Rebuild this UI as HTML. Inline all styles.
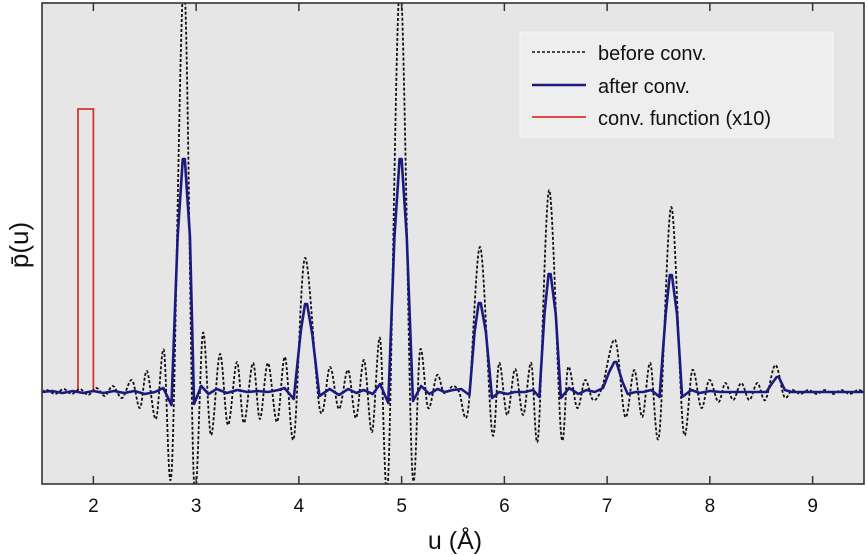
<!DOCTYPE html>
<html><head><meta charset="utf-8"><style>
body{margin:0;background:#fff;}
svg{display:block;font-family:"Liberation Sans",sans-serif;}
</style></head><body>
<svg id="c" width="867" height="555">
<defs><clipPath id="clip"><rect x="42" y="3" width="822" height="481"/></clipPath></defs>
<rect x="42" y="3" width="822" height="481" fill="#e6e6e6"/>
<g id="series" clip-path="url(#clip)"></g>
<g id="axes"></g>
<g>
<rect x="520" y="32" width="313" height="105" fill="#eeeeee" stroke="#f6f6f6" stroke-width="1"/>
<line x1="532" y1="52" x2="586" y2="52" stroke="#111" stroke-width="1.4" stroke-dasharray="3,2"/>
<text x="598" y="60" font-size="20" fill="#111">before conv.</text>
<line x1="532" y1="85" x2="586" y2="85" stroke="#1c1a80" stroke-width="2.5"/>
<text x="598" y="93" font-size="20" fill="#111">after conv.</text>
<line x1="532" y1="117" x2="586" y2="117" stroke="#d9342b" stroke-width="1.8"/>
<text x="598" y="125" font-size="20" fill="#111">conv. function (x10)</text>
</g>
<text x="455" y="549" font-size="25" text-anchor="middle" fill="#111">u (Å)</text>
<text transform="translate(28,245) rotate(-90)" font-size="26" text-anchor="middle" fill="#111">p̄(u)</text>
</svg>
<script>
const xTicks=[2,3,4,5,6,7,8,9];
const beforeU=[1.5,1.55,1.63,1.71,1.79,1.87,1.95,2.03,2.11,2.19,2.28,2.375,2.453,2.521,2.609,2.686,2.764,2.881,2.979,3.066,3.144,3.232,3.31,3.397,3.465,3.553,3.621,3.699,3.787,3.865,3.952,4.059,4.205,4.303,4.39,4.478,4.556,4.634,4.712,4.79,4.868,4.985,5.102,5.18,5.258,5.345,5.413,5.501,5.56,5.647,5.764,5.881,5.949,6.027,6.105,6.183,6.261,6.329,6.436,6.553,6.621,6.709,6.786,6.864,6.952,7.078,7.176,7.264,7.342,7.42,7.507,7.624,7.741,7.83,7.917,7.995,8.083,8.151,8.227,8.305,8.384,8.462,8.54,8.637,8.725,8.8,8.88,8.96,9.04,9.12,9.2,9.28,9.36,9.44,9.5];
const beforeV=[0,0.02,-0.02,0.03,-0.02,0.03,-0.03,0.04,-0.04,0.06,-0.06,0.12,-0.16,0.21,-0.27,0.42,-0.75,4.1,-0.9,0.59,-0.43,0.38,-0.33,0.3,-0.31,0.29,-0.27,0.29,-0.3,0.35,-0.46,1.34,-0.18,0.25,-0.17,0.22,-0.26,0.32,-0.4,0.54,-0.88,4.1,-0.76,0.42,-0.16,0.17,-0.01,0.06,0,-0.18,1.45,-0.41,0.29,-0.23,0.23,-0.23,0.29,-0.45,2.02,-0.43,0.25,-0.16,0.12,-0.08,0.05,0.52,-0.25,0.22,-0.25,0.29,-0.43,1.85,-0.38,0.22,-0.16,0.12,-0.1,0.09,-0.08,0.09,-0.08,0.09,-0.08,0.27,-0.05,0.02,-0.02,0.02,-0.02,0.02,-0.02,0.02,-0.02,0.02,0];
const afterU=[1.5,1.6,1.7,1.8,1.9,2.0,2.1,2.2,2.3,2.4,2.5,2.6,2.68,2.76,2.82,2.87,2.89,2.94,2.98,3.05,3.12,3.2,3.3,3.4,3.5,3.6,3.7,3.8,3.86,3.95,4.02,4.06,4.08,4.13,4.2,4.3,4.39,4.48,4.56,4.63,4.72,4.79,4.87,4.93,4.98,5.0,5.05,5.11,5.19,5.27,5.35,5.42,5.5,5.58,5.66,5.71,5.75,5.77,5.82,5.88,5.95,6.03,6.1,6.2,6.28,6.34,6.39,6.43,6.45,6.5,6.55,6.63,6.72,6.8,6.88,6.96,7.02,7.07,7.09,7.15,7.2,7.28,7.35,7.43,7.51,7.57,7.61,7.63,7.68,7.73,7.82,7.9,8.0,8.1,8.3,8.55,8.6,8.65,8.67,8.73,8.8,9.0,9.2,9.5];
const afterV=[0,0.01,-0.01,0.01,-0.01,0.01,-0.01,0.01,-0.01,0.01,-0.02,0,0.04,-0.13,1.55,2.33,2.33,1.55,-0.12,0.06,-0.02,0.03,-0.01,0.02,0,0.01,0,0.02,0.04,-0.07,0.62,0.88,0.88,0.58,-0.04,0.03,-0.03,0.03,-0.01,0.02,-0.02,0.08,-0.11,1.55,2.33,2.33,1.55,-0.09,0.06,-0.02,0.03,0,0.02,0.03,-0.03,0.6,0.89,0.89,0.6,-0.06,0,-0.02,0,0,0.02,-0.05,0.78,1.18,1.18,0.78,-0.06,0.04,-0.02,0.02,0,0.04,0.2,0.3,0.3,0.1,-0.02,0,0,0.02,-0.05,0.78,1.17,1.17,0.78,-0.05,0.02,-0.01,0.01,0,0,0,0.08,0.15,0.15,0.02,0,0,0,0];
const funcU=[1.85,1.85,2.0,2.0];
const funcV=[0,2.83,2.83,0];
const X0=1.5,X1=9.5,Y0=-0.92,Y1=3.89;
function sx(u){return 42+(u-X0)/(X1-X0)*822;}
function sy(v){return 484-(v-Y0)/(Y1-Y0)*481;}
const NS='http://www.w3.org/2000/svg';
const S=document.getElementById('series'),A=document.getElementById('axes');
function smooth(us,vs){
  const p=us.map((u,i)=>[sx(u),sy(vs[i])]);
  let d='M'+p[0][0]+','+p[0][1];
  for(let i=0;i<p.length-1;i++){
    const a=p[Math.max(i-1,0)],b=p[i],c=p[i+1],e=p[Math.min(i+2,p.length-1)];
    const c1=[b[0]+(c[0]-a[0])/6,b[1]+(c[1]-a[1])/6],c2=[c[0]-(e[0]-b[0])/6,c[1]-(e[1]-b[1])/6];
    d+=' C'+c1[0]+','+c1[1]+' '+c2[0]+','+c2[1]+' '+c[0]+','+c[1];
  }
  return d;
}
function line(us,vs){return us.map((u,i)=>(i?'L':'M')+sx(u)+','+sy(vs[i])).join(' ');}
let p=document.createElementNS(NS,'path');
p.setAttribute('d',line(funcU,funcV));
p.setAttribute('fill','none');p.setAttribute('stroke','#d9342b');p.setAttribute('stroke-width','1.8');


S.appendChild(p);
p=document.createElementNS(NS,'path');
p.setAttribute('d',smooth(beforeU,beforeV));
p.setAttribute('fill','none');p.setAttribute('stroke','#111');p.setAttribute('stroke-width','1.8');p.setAttribute('stroke-dasharray','3,2');


S.appendChild(p);
p=document.createElementNS(NS,'path');
p.setAttribute('d',line(afterU,afterV));
p.setAttribute('fill','none');p.setAttribute('stroke','#1c1a80');p.setAttribute('stroke-width','2.6');p.setAttribute('stroke-linejoin','round');


S.appendChild(p);
const fr=document.createElementNS(NS,'rect');
fr.setAttribute('x',42);fr.setAttribute('y',3);fr.setAttribute('width',822);fr.setAttribute('height',481);
fr.setAttribute('fill','none');fr.setAttribute('stroke','#333');fr.setAttribute('stroke-width','1.6');


A.appendChild(fr);
xTicks.forEach(t=>{
  const x=sx(t);
  [[484,476],[3,11]].forEach(([a,b])=>{
    const l=document.createElementNS(NS,'line');
    l.setAttribute('x1',x);l.setAttribute('x2',x);l.setAttribute('y1',a);l.setAttribute('y2',b);
    l.setAttribute('stroke','#333');l.setAttribute('stroke-width','1.5');
    
    
    A.appendChild(l);
  });
  const tx=document.createElementNS(NS,'text');
  tx.setAttribute('x',x);tx.setAttribute('y',512);tx.setAttribute('font-size','19');tx.setAttribute('text-anchor','middle');tx.setAttribute('fill','#111');
  tx.textContent=t;
  
  
  A.appendChild(tx);
});
</script>
</body></html>
